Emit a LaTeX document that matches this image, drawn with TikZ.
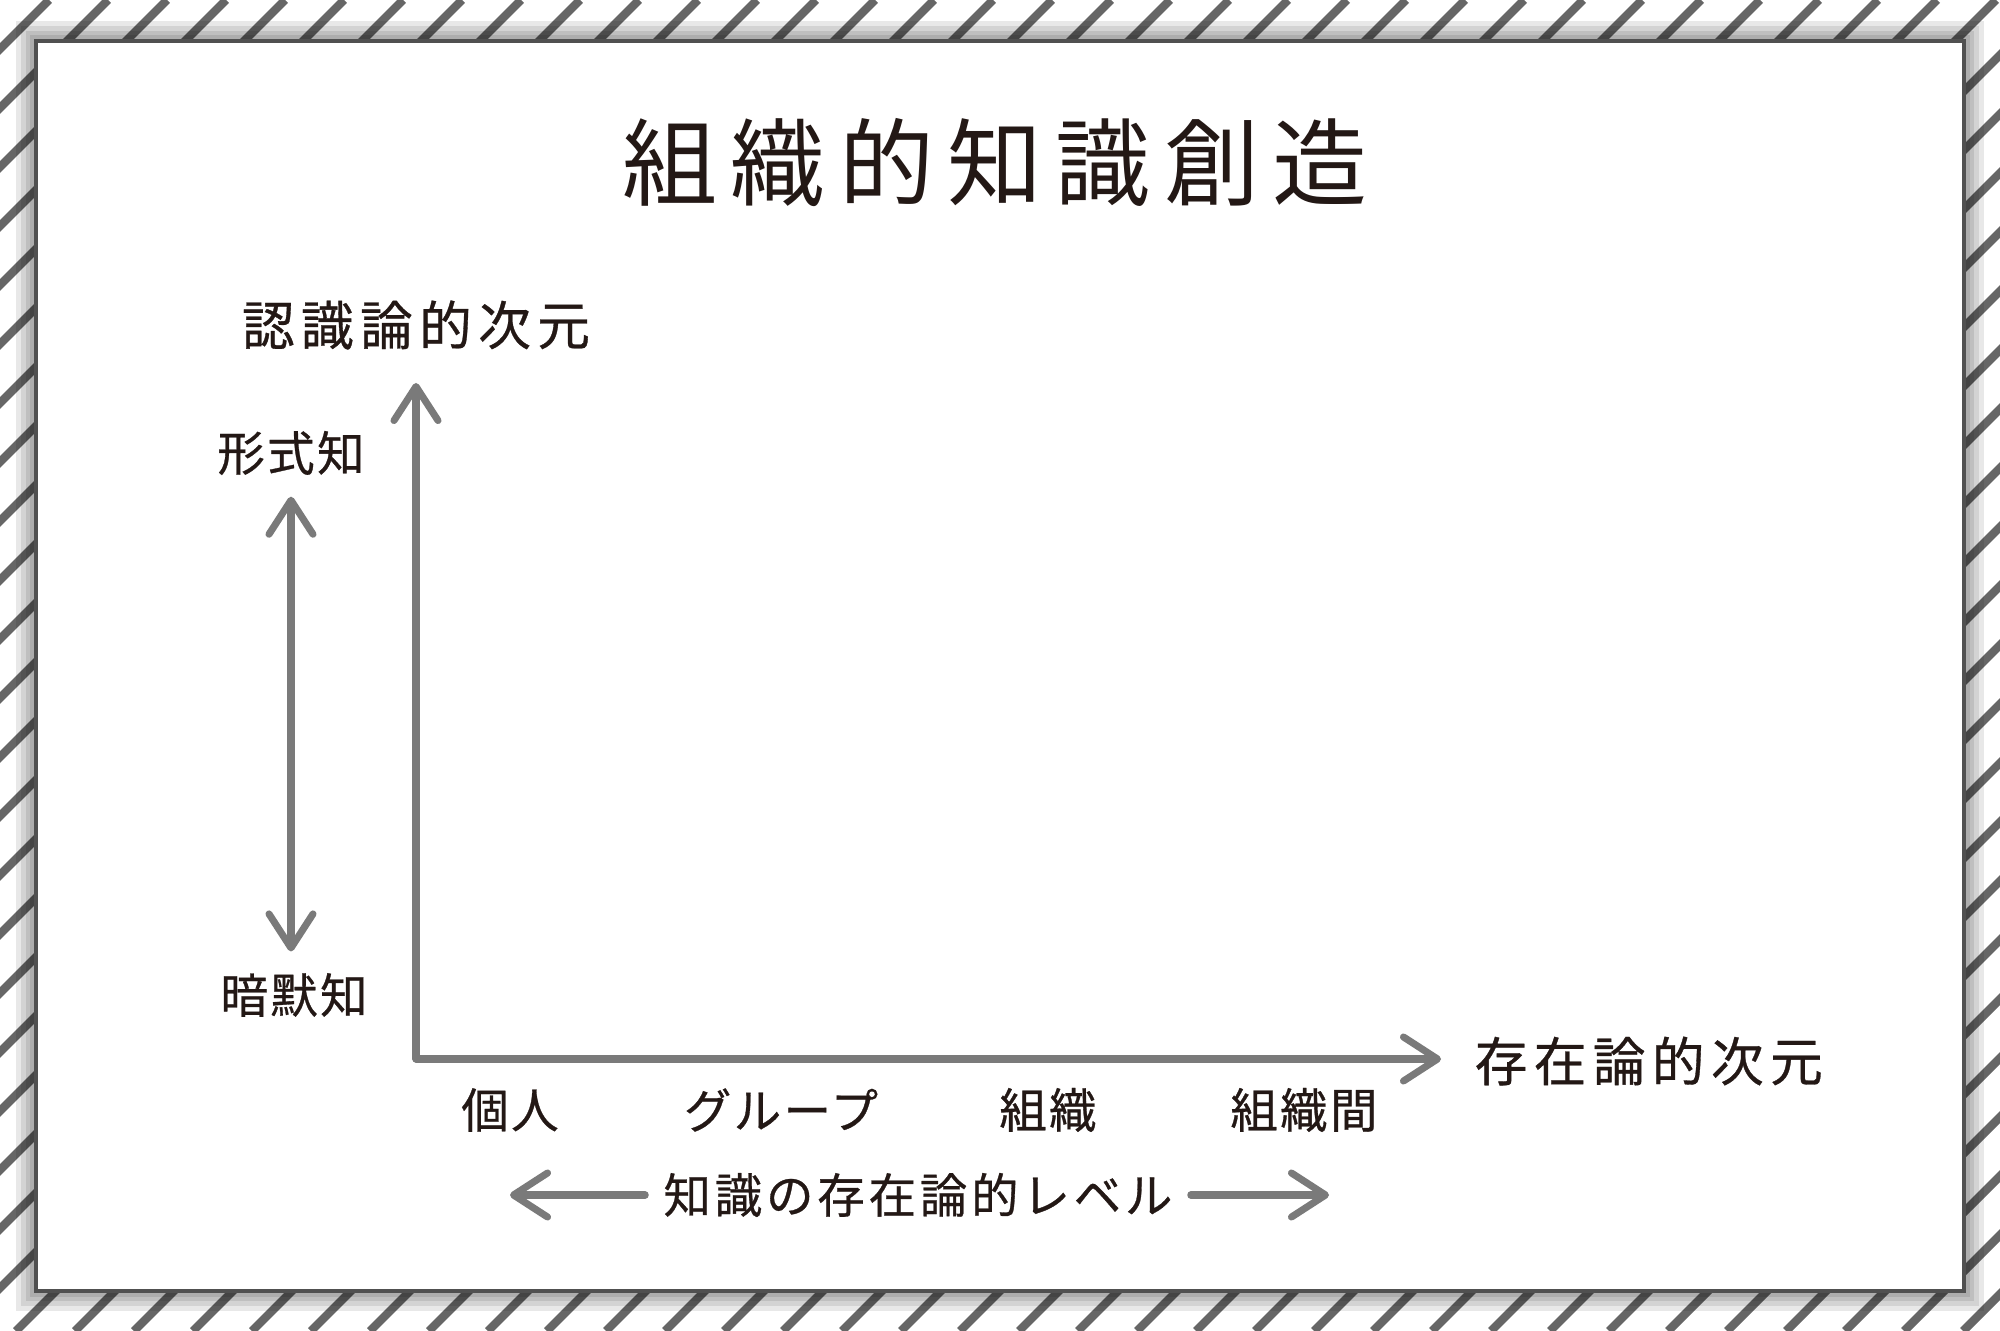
\documentclass[tikz,border=0pt]{standalone}
\usepackage{fontspec}
\setmainfont{Noto Sans CJK JP}
\newfontfamily\titlefont[LetterSpace=14]{Noto Sans CJK JP}
\newfontfamily\axisfont[LetterSpace=12,FakeBold=0.6]{Noto Sans CJK JP}
\newfontfamily\tagfont[LetterSpace=5,FakeBold=0.6]{Noto Sans CJK JP}
\newfontfamily\levelfont[LetterSpace=8,FakeBold=0.6]{Noto Sans CJK JP}
\usetikzlibrary{arrows.meta}
\definecolor{hatchgray}{HTML}{666666}
\definecolor{arrowgray}{HTML}{7A7A7A}
\definecolor{inkgray}{HTML}{231815}
\definecolor{framegray}{HTML}{505050}
\tikzset{
	hatchline/.style={hatchgray, line width=2.4pt},
	barb/.tip={Straight Barb[length=3.4mm,width=4.4mm,round]},
	axisarrow/.style={arrowgray, line width=2pt, line cap=round, line join=round, -barb},
	bothways/.style={axisarrow, barb-barb},
	tagtext/.style={inkgray, inner sep=0pt, font=\tagfont\fontsize{13.5}{15}\selectfont},
	axistext/.style={inkgray, inner sep=0pt, font=\axisfont\fontsize{15}{17}\selectfont}
}
\begin{document}
\begin{tikzpicture}[x=0.01cm, y=-0.01cm]
		\useasboundingbox (0,0) rectangle (2000,1331);
		\fill [white] (0,0) rectangle (2000,1331);
		\begin{scope}[even odd rule]
			\clip (0,0) rectangle (2000,1331) (36,41) rectangle (1964,1291);
			\foreach \i in {-1400,-1341,...,2000}
				\draw [hatchline] (\i,1331) -- ++(1331,-1331);
			\foreach \w in {40,30,20,12}
				\draw [black, opacity=0.09, line width=\w*0.2845pt] (36,41) rectangle (1964,1291);
		\end{scope}
		\draw [framegray, fill=white, line width=1pt] (36,41) rectangle (1964,1291);
		\node [inkgray, inner sep=0pt, font=\titlefont\fontsize{27}{31}\selectfont] (title) at (995,163) {組織的知識創造};
		\coordinate (origin) at (416,1059);
		\coordinate (ytip) at (416,383);
		\coordinate (xtip) at (1441,1059);
		\draw [axisarrow] (origin) -- (ytip);
		\draw [axisarrow] (origin) -- (xtip);
		\node [axistext] (epist) at (416,325) {認識論的次元};
		\node [axistext, anchor=west] (ontol) at (1474,1061) {存在論的次元};
		\node [tagtext] (explicit) at (291,453) {形式知};
		\node [tagtext] (tacit) at (294,995) {暗默知};
		\draw [bothways, shorten >=21pt*0.2845, shorten <=21pt*0.2845] (explicit.south) -- (explicit.south |- tacit.north);
		\node [tagtext] (indiv) at (510,1110) {個人};
		\node [tagtext] (group) at (781,1110) {グループ};
		\node [tagtext] (organ) at (1048,1110) {組織};
		\node [tagtext] (inter) at (1304,1110) {組織間};
		\node [tagtext, font=\levelfont\fontsize{13.5}{15}\selectfont] (levels) at (918,1195) {知識の存在論的レベル};
		\coordinate (leftend) at (510,1195);
		\coordinate (rightend) at (1329,1195);
		\draw [axisarrow, shorten <=5pt] (levels.west) -- (leftend);
		\draw [axisarrow, shorten <=5pt] (levels.east) -- (rightend);
	\end{tikzpicture}
\end{document}
